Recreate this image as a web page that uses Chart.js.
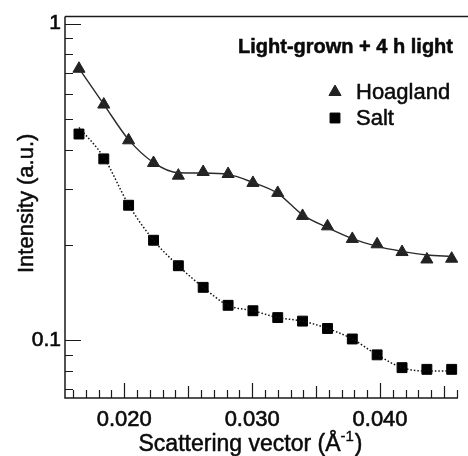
<!DOCTYPE html>
<html><head><meta charset="utf-8">
<script src="https://cdn.jsdelivr.net/npm/chart.js@4.4.1/dist/chart.umd.min.js"></script>
<style>html,body{margin:0;padding:0;background:#fff;}#wrap{width:468px;height:456px;position:relative;}</style>
</head><body><div id="wrap"><canvas id="c"></canvas></div>
<script>
// ---- data ----
const scatteringVector = [0.01646, 0.01840, 0.02034, 0.02229, 0.02423, 0.02617, 0.02812, 0.03006,
                          0.03200, 0.03394, 0.03589, 0.03783, 0.03977, 0.04172, 0.04366, 0.04560];
const hoaglandIntensity = [0.720, 0.555, 0.428, 0.363, 0.331, 0.340, 0.335, 0.314,
                           0.292, 0.247, 0.229, 0.209, 0.201, 0.190, 0.180, 0.181];
const hoaglandFitCurve = [0.722, 0.556, 0.430, 0.364, 0.338, 0.3375, 0.334, 0.315,
                          0.291, 0.249, 0.227, 0.2096, 0.198, 0.191, 0.186, 0.184];
const saltIntensity = [0.448, 0.374, 0.267, 0.207, 0.172, 0.147, 0.129, 0.124,
                       0.118, 0.115, 0.109, 0.101, 0.090, 0.082, 0.081, 0.081];
const saltFitCurve = [0.470, 0.378, 0.268, 0.207, 0.172, 0.147, 0.129, 0.124,
                      0.118, 0.115, 0.109, 0.101, 0.090, 0.082, 0.080, 0.080];
const seriesNames = ['Hoagland', 'Salt'];
const xTickValues = [0.020, 0.030, 0.040];
const yTickValues = [0.1, 1];
const panelTitle = 'Light-grown + 4 h light';
const xTitleMain = 'Scattering vector (\u00C5';
const xTitleSup = '-1';
const xTitleEnd = ')';
const yTitle = 'Intensity (a.u.)';

const FONT = '"Liberation Sans", Arial, sans-serif';
const INK = '#0a0a0a';

function heavyText(ctx, s, x, y, w) {
  ctx.lineWidth = w; ctx.strokeStyle = ctx.fillStyle; ctx.lineJoin = 'round';
  ctx.strokeText(s, x, y); ctx.fillText(s, x, y);
}

const decor = {
  id: 'decor',
  beforeDatasetsDraw(chart) {
    const ctx = chart.ctx, a = chart.chartArea, xs = chart.scales.x, ys = chart.scales.y;
    ctx.save();
    ctx.strokeStyle = '#1a1a1a';
    ctx.lineWidth = 1.5;
    ctx.beginPath();
    ctx.moveTo(a.left, a.top); ctx.lineTo(chart.width, a.top);
    ctx.moveTo(a.left, a.top); ctx.lineTo(a.left, a.bottom); ctx.lineTo(a.right, a.bottom);
    ctx.stroke();
    ctx.lineWidth = 1.2;
    ctx.beginPath();
    const k0 = Math.ceil(xs.min * 1000), k1 = Math.floor(xs.max * 1000);
    for (let k = k0; k <= k1; k++) {
      const px = Math.round(xs.getPixelForValue(k / 1000)) + 0.5;
      const len = k % 10 === 0 ? 15 : (k % 5 === 0 ? 12 : 8);
      ctx.moveTo(px, a.bottom); ctx.lineTo(px, a.bottom - len);
    }
    for (let d = -2; d <= 0; d++) {
      for (let m = 1; m <= 9; m++) {
        const v = m * Math.pow(10, d);
        if (v < ys.min || v > ys.max) continue;
        const py = Math.round(ys.getPixelForValue(v)) + 0.5;
        const len = m === 1 ? 16 : 8;
        ctx.moveTo(a.left, py); ctx.lineTo(a.left + len, py);
      }
    }
    ctx.stroke();
    ctx.restore();
  },
  afterDraw(chart) {
    const ctx = chart.ctx, a = chart.chartArea;
    ctx.save();
    ctx.fillStyle = INK;
    // panel title
    ctx.font = 'bold 20px ' + FONT;
    ctx.textAlign = 'right'; ctx.textBaseline = 'alphabetic';
    heavyText(ctx, panelTitle, a.right - 5, 53, 0.5);
    // legend (marker style taken from the point datasets)
    const ds = chart.data.datasets.filter(d => d.showLine === false);
    const rows = [92, 118];
    ds.forEach((d, i) => {
      ctx.fillStyle = d.pointBackgroundColor;
      ctx.strokeStyle = d.pointBorderColor;
      ctx.lineWidth = 1;
      Chart.helpers.drawPoint(ctx, {pointStyle: d.pointStyle, radius: d.pointRadius, borderWidth: 1}, 335, rows[i]);
      ctx.fillStyle = INK;
      ctx.font = '22px ' + FONT;
      ctx.textAlign = 'left'; ctx.textBaseline = 'middle';
      heavyText(ctx, d.label, 356, rows[i] + 1, 0.5);
    });
    // x title with superscript
    ctx.fillStyle = INK;
    ctx.textBaseline = 'alphabetic'; ctx.textAlign = 'left';
    const fMain = '23px ' + FONT, fSup = '15px ' + FONT;
    ctx.font = fMain; const w1 = ctx.measureText(xTitleMain).width, w3 = ctx.measureText(xTitleEnd).width;
    ctx.font = fSup; const w2 = ctx.measureText(xTitleSup).width;
    let x0 = 250 - (w1 + w2 + w3) / 2;
    ctx.font = fMain; heavyText(ctx, xTitleMain, x0, 451, 0.5);
    ctx.font = fSup; heavyText(ctx, xTitleSup, x0 + w1, 441, 0.4);
    ctx.font = fMain; heavyText(ctx, xTitleEnd, x0 + w1 + w2 + 1, 451, 0.5);
    // y title
    ctx.translate(27, (a.top + a.bottom) / 2 - 4);
    ctx.rotate(-Math.PI / 2);
    ctx.font = '22px ' + FONT;
    ctx.textAlign = 'center'; ctx.textBaseline = 'middle';
    heavyText(ctx, yTitle, 0, 0, 0.5);
    ctx.restore();
  }
};

const toPoints = ys => scatteringVector.map((x, i) => ({x, y: ys[i]}));

new Chart(document.getElementById('c'), {
  type: 'line',
  data: {
    datasets: [
      {
        label: seriesNames[0] + ' fit', data: toPoints(hoaglandFitCurve),
        borderColor: '#2a2a2a', borderWidth: 1.4, cubicInterpolationMode: 'monotone',
        pointRadius: 0, fill: false
      },
      {
        label: seriesNames[1] + ' fit', data: toPoints(saltFitCurve),
        borderColor: '#111', borderWidth: 1.5, borderDash: [1.5, 2], cubicInterpolationMode: 'monotone',
        pointRadius: 0, fill: false
      },
      {
        label: seriesNames[0], data: toPoints(hoaglandIntensity), showLine: false,
        pointStyle: 'triangle', pointRadius: 7, pointBorderWidth: 1,
        pointBackgroundColor: '#222', pointBorderColor: '#222'
      },
      {
        label: seriesNames[1], data: toPoints(saltIntensity), showLine: false,
        pointStyle: 'rect', pointRadius: 7, pointBorderWidth: 1,
        pointBackgroundColor: '#000', pointBorderColor: '#000'
      }
    ]
  },
  options: {
    responsive: true, maintainAspectRatio: false, animation: false, devicePixelRatio: 1,
    layout: {padding: {top: 14, right: 10, left: 0, bottom: 0}},
    plugins: {legend: {display: false}, tooltip: {enabled: false}},
    scales: {
      x: {
        type: 'linear', min: 0.015367, max: 0.046094,
        grid: {display: false, drawTicks: false}, border: {display: false},
        ticks: {font: {family: FONT, size: 22}, color: INK, padding: 9, maxRotation: 0, autoSkip: false,
                textStrokeColor: INK, textStrokeWidth: 0.6,
                callback: v => Number(v).toFixed(3)},
        afterBuildTicks: s => { s.ticks = xTickValues.map(v => ({value: v})); },
        afterFit: s => { s.height = 58; }
      },
      y: {
        type: 'logarithmic', min: 0.06577, max: 1.0518,
        grid: {display: false, drawTicks: false}, border: {display: false},
        ticks: {font: {family: FONT, size: 21}, color: INK, padding: 4, autoSkip: false,
                textStrokeColor: INK, textStrokeWidth: 0.6,
                callback: v => String(v)},
        afterBuildTicks: s => { s.ticks = yTickValues.map(v => ({value: v})); },
        afterFit: s => { s.width = 65; }
      }
    }
  },
  plugins: [decor]
});
</script></body></html>
